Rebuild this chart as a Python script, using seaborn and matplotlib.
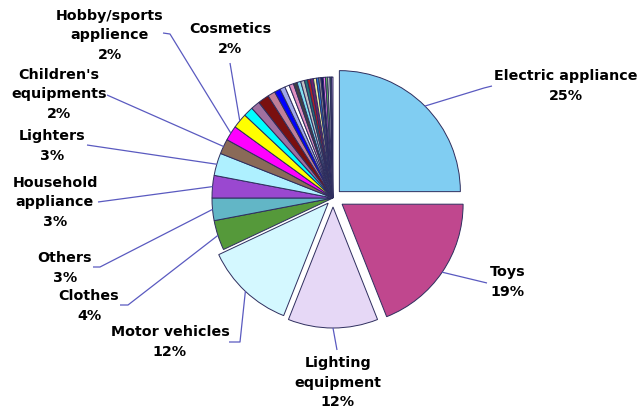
import matplotlib
matplotlib.use("Agg")
import matplotlib.pyplot as plt
import seaborn as sns
import numpy as np

# ---- data ----
categories = ["Electric appliance", "Toys", "Lighting\nequipment", "Motor vehicles",
              "Clothes", "Others", "Household\nappliance", "Lighters",
              "Children's\nequipments", "Hobby/sports\napplience", "Cosmetics"]
shares = [25, 19, 12, 12, 4, 3, 3, 3, 2, 2, 2]
# many small unlabeled categories (estimated)
minor_shares = [1.3, 1.2, 1.5, 1.0, 0.8, 0.7, 0.6, 0.6, 0.5, 0.5, 0.5, 0.4,
                0.4, 0.4, 0.4, 0.3, 0.3, 0.3, 0.3, 0.3, 0.3, 0.2, 0.2]

# ---- styles ----
main_colors = ["#80CDF2", "#C0478E", "#E6D8F6", "#D4F8FF", "#55993A", "#62B6C6",
               "#9A48D0", "#AEF0FF", "#8A6A58", "#FF00FF", "#FFFF00"]
minor_colors = ["#00FFFF", "#A070A0", "#7A1010", "#C08098", "#0000FF", "#A0A8E8",
                "#FFFFFF", "#E090C0", "#404040", "#80E0F0", "#C0C0C0", "#207878",
                "#B02020", "#702070", "#F0F0A0", "#2080E0", "#909090", "#101060",
                "#F080F0", "#60B060", "#E8E8E8", "#305050", "#C0A0E0"]
explode_main = [9, 11, 9, 7, 0, 0, 0, 0, 0, 0, 0]

sns.set_theme(style="white")
plt.rcParams['font.family'] = ['DejaVu Sans']

W, H = 639, 419
fig = plt.figure(figsize=(W / 100, H / 100), dpi=100)
ax = fig.add_axes([0, 0, 1, 1])

values = shares + minor_shares
colors = main_colors + minor_colors
explode = explode_main + [0] * len(minor_shares)

center = (333, H - 198)
wedges, _ = ax.pie(values, colors=colors, explode=explode, startangle=90,
                   counterclock=False, center=center, radius=121,
                   wedgeprops=dict(edgecolor="#2E2E5E", linewidth=0.7),
                   frame=True)
ax.set_xlim(0, W)
ax.set_ylim(0, H)
ax.set_aspect('equal')
ax.axis('off')

# label layout: (text center x, y from top), leader path points (from top)
layout = [
    ((566, 86), [(484, 88), (492, 86)]),
    ((508, 282), [(487, 283)]),
    ((338, 383), [(337, 350)]),
    ((170, 342), [(240, 342), (229, 342)]),
    ((89, 306), [(128, 305), (120, 305)]),
    ((65, 268), [(100, 267), (93, 267)]),
    ((55, 202), [(98, 202)]),
    ((52, 146), [(87, 145)]),
    ((59, 94), [(107, 95)]),
    ((110, 35), [(170, 34), (163, 33)]),
    ((230, 39), [(230, 63)]),
]

line_col = "#5A5AC0"
for w, name, val, (tpos, path) in zip(wedges, categories, shares, layout):
    mid = np.deg2rad((w.theta1 + w.theta2) / 2)
    cx, cy = w.center
    px = cx + w.r * np.cos(mid)
    py = cy + w.r * np.sin(mid)
    xs = [px] + [p[0] for p in path]
    ys = [py] + [H - p[1] for p in path]
    ax.plot(xs, ys, color=line_col, lw=0.9, solid_capstyle='butt')
    ax.text(tpos[0], H - tpos[1], f"{name}\n{val}%", ha='center', va='center',
            fontsize=10.3, fontweight='bold', color='black', linespacing=1.5)

fig.savefig("out.png", dpi=100)
